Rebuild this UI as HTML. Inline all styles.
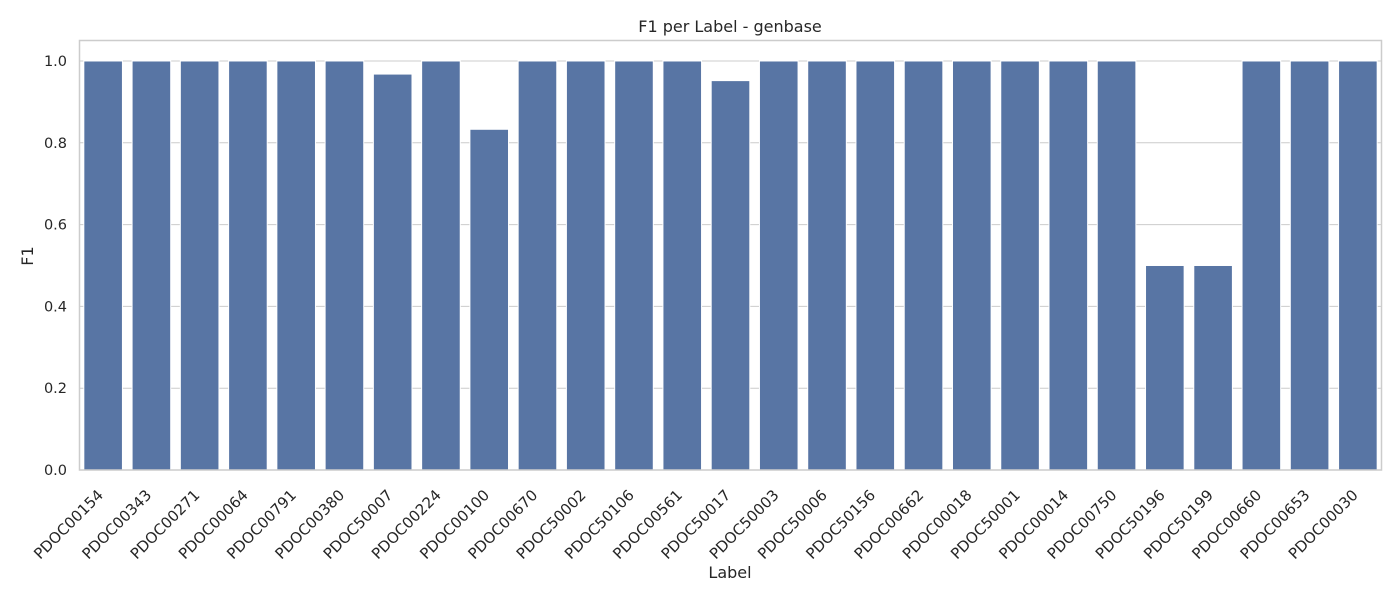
<!DOCTYPE html>
<html><head><meta charset="utf-8"><style>
body{margin:0;background:#fff;}
svg text{font-family:"DejaVu Sans","Liberation Sans",sans-serif;fill:#262626;}
</style></head><body>
<svg id="chart" width="1400" height="600" xmlns="http://www.w3.org/2000/svg">
<text x="730" y="32" font-size="16" text-anchor="middle">F1 per Label - genbase</text>
<text x="0" y="0" font-size="16" text-anchor="middle" transform="translate(33,256) rotate(-90)">F1</text>
<text x="730" y="578" font-size="16" text-anchor="middle">Label</text>
<g id="grid"></g><g id="bars"></g><g id="xt"></g><g id="yt"></g>
<rect x="79.5" y="40.5" width="1302" height="429.5" fill="none" stroke="#cccccc" stroke-width="1.5"/>
</svg>
<script>
const categories=["PDOC00154","PDOC00343","PDOC00271","PDOC00064","PDOC00791","PDOC00380","PDOC50007","PDOC00224","PDOC00100","PDOC00670","PDOC50002","PDOC50106","PDOC00561","PDOC50017","PDOC50003","PDOC50006","PDOC50156","PDOC00662","PDOC00018","PDOC50001","PDOC00014","PDOC00750","PDOC50196","PDOC50199","PDOC00660","PDOC00653","PDOC00030"];
const f1Values=[1,1,1,1,1,1,0.968,1,0.833,1,1,1,1,0.952,1,1,1,1,1,1,1,1,0.5,0.5,1,1,1];
const yTicks=[0,0.2,0.4,0.6,0.8,1.0];
const ns="http://www.w3.org/2000/svg";
const L=79,R=1382,T=40,B=470,YMAX=1.0513;
const band=(R-L)/categories.length;
const xs=i=>L+band*(i+0.5);
const ys=v=>B-(B-T)*v/YMAX;
function mk(t,a,p){const e=document.createElementNS(ns,t);for(const k in a)e.setAttribute(k,a[k]);p.appendChild(e);return e;}
const g=document.getElementById('grid'),yt=document.getElementById('yt'),bars=document.getElementById('bars'),xt=document.getElementById('xt');
yTicks.forEach(v=>{
 const l=mk('line',{x1:L,x2:R,y1:ys(v),y2:ys(v),stroke:'#cccccc','stroke-width':1},g);
 
 
 const t=mk('text',{x:L-12,y:ys(v)+5,'font-size':14.5,'text-anchor':'end'},yt);
 t.textContent=v.toFixed(1);
 
 
});
categories.forEach((c,i)=>{
 const w=band*0.8,v=f1Values[i];
 const r=mk('rect',{x:xs(i)-w/2,y:ys(v),width:w,height:B-ys(v),fill:'#5875a4',stroke:'#ffffff','stroke-width':1},bars);
 
 
 const t=mk('text',{x:0,y:0,'font-size':15,'text-anchor':'end',transform:`translate(${xs(i)+1},${B+26}) rotate(-45)`},xt);
 t.textContent=c;
 
 
});
</script>
</body></html>
